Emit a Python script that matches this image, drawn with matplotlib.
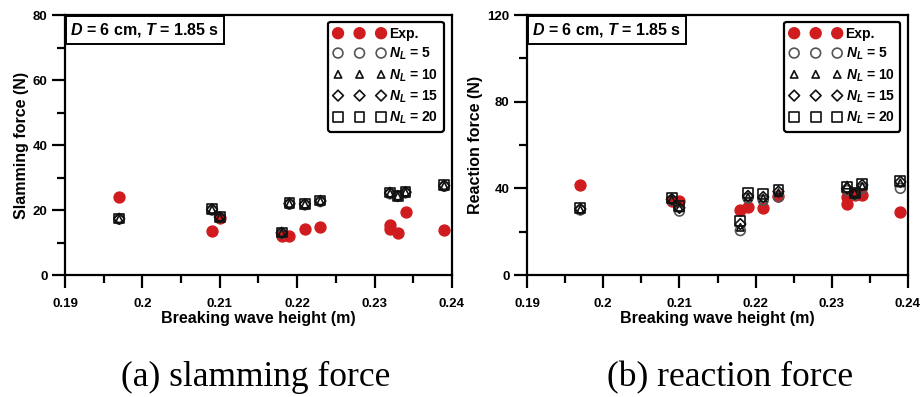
import matplotlib
matplotlib.use('Agg')
import matplotlib.pyplot as plt
from matplotlib.ticker import MultipleLocator, FormatStrFormatter

plt.rcParams['font.family'] = ['Liberation Sans', 'DejaVu Sans']
plt.rcParams['font.weight'] = 'bold'
plt.rcParams['mathtext.fontset'] = 'custom'
plt.rcParams['mathtext.it'] = 'Liberation Sans:bold:italic'
plt.rcParams['mathtext.rm'] = 'Liberation Sans:bold'
plt.rcParams['mathtext.bf'] = 'Liberation Sans:bold'

# breaking wave heights (m)
h_exp = [0.197, 0.209, 0.210, 0.218, 0.219, 0.221, 0.223, 0.232, 0.232, 0.233, 0.234, 0.239]
h_sim = [0.197, 0.209, 0.210, 0.218, 0.219, 0.221, 0.223, 0.232, 0.233, 0.234, 0.239]

# slamming force (N)
slam_exp = [24.0, 13.5, 17.5, 12.0, 12.0, 14.3, 14.8, 15.5, 14.3, 13.0, 19.3, 13.7]
slam_nl5 = [17.2, 20.0, 17.6, 12.8, 21.8, 21.6, 22.6, 25.0, 24.2, 25.3, 27.3]
slam_nl10 = [17.3, 20.2, 17.8, 13.0, 22.0, 21.8, 22.8, 25.2, 24.3, 25.5, 27.5]
slam_nl15 = [17.3, 20.2, 17.8, 13.0, 22.0, 21.8, 22.8, 25.3, 24.3, 25.5, 27.5]
slam_nl20 = [17.4, 20.3, 17.9, 13.1, 22.1, 21.9, 22.9, 25.4, 24.4, 25.6, 27.6]

# reaction force (N)
reac_exp = [41.7, 34.2, 34.0, 29.9, 31.6, 31.1, 36.5, 32.8, 36.0, 37.0, 37.0, 29.3]
reac_nl5 = [30.0, 34.5, 29.5, 20.5, 35.5, 34.5, 36.0, 39.0, 37.0, 40.0, 40.0]
reac_nl10 = [30.3, 34.8, 31.0, 22.0, 36.0, 35.5, 38.0, 41.5, 38.0, 41.0, 42.5]
reac_nl15 = [30.5, 35.0, 31.0, 23.5, 36.5, 36.0, 38.5, 40.0, 37.5, 41.5, 43.0]
reac_nl20 = [30.8, 35.5, 32.0, 25.0, 38.0, 37.5, 39.5, 40.5, 38.0, 42.0, 43.5]

RED = '#d01c1f'


def draw_panel(ax, exp, sims, ylabel, ymax, ymajor, yminor):
    ax.scatter(h_exp, exp, s=62, color=RED, zorder=2, label='Exp.')
    styles = [('o', '#555555', 50, r'$N_L$ = 5'),
              ('^', '#111111', 28, r'$N_L$ = 10'),
              ('D', '#111111', 30, r'$N_L$ = 15'),
              ('s', '#111111', 50, r'$N_L$ = 20')]
    for vals, (mk, ec, size, lab) in zip(sims, styles):
        ax.scatter(h_sim, vals, s=size, marker=mk, facecolors='none',
                   edgecolors=ec, linewidths=1.2, zorder=3, label=lab)
    ax.set_xlim(0.19, 0.24)
    ax.set_ylim(0, ymax)
    ax.xaxis.set_major_locator(MultipleLocator(0.01))
    ax.xaxis.set_minor_locator(MultipleLocator(0.005))
    ax.xaxis.set_major_formatter(FormatStrFormatter('%g'))
    ax.yaxis.set_major_locator(MultipleLocator(ymajor))
    ax.yaxis.set_minor_locator(MultipleLocator(yminor))
    ax.tick_params(which='major', direction='out', length=9.5, width=1.6,
                   labelsize=9.5)
    ax.tick_params(which='minor', direction='out', length=5.5, width=1.6)
    ax.tick_params(axis='x', which='major', pad=7)
    ax.tick_params(axis='y', which='major', pad=3)
    for lbl in ax.get_xticklabels() + ax.get_yticklabels():
        lbl.set_fontweight('bold')
    for sp in ax.spines.values():
        sp.set_linewidth(1.6)
    ax.set_xlabel('Breaking wave height (m)', fontsize=11.5, fontweight='bold', labelpad=1)
    ax.set_ylabel(ylabel, fontsize=11.5, fontweight='bold', labelpad=3)
    ax.text(0.014, 0.978, r'$D$ = 6 cm, $T$ = 1.85 s', transform=ax.transAxes,
            ha='left', va='top', fontsize=11.5, fontweight='bold',
            bbox=dict(boxstyle='square,pad=0.3', fc='white', ec='black', lw=1.4))
    leg = ax.legend(loc='upper right', numpoints=3, scatterpoints=3,
                    scatteryoffsets=[0.5], frameon=True, fancybox=True,
                    handlelength=3.7, handletextpad=0.3, labelspacing=0.35,
                    borderpad=0.4, borderaxespad=0.0,
                    bbox_to_anchor=(0.98, 0.975),
                    prop={'weight': 'bold', 'size': 10})
    leg.get_frame().set_edgecolor('black')
    leg.get_frame().set_linewidth(1.6)
    leg.get_frame().set_alpha(1)


fig = plt.figure(figsize=(9.22, 3.97), dpi=100)
ax1 = fig.add_axes([0.0705, 0.3073, 0.4197, 0.6549])
ax2 = fig.add_axes([0.5716, 0.3073, 0.4132, 0.6549])

draw_panel(ax1, slam_exp, [slam_nl5, slam_nl10, slam_nl15, slam_nl20],
           'Slamming force (N)', 80, 20, 10)
draw_panel(ax2, reac_exp, [reac_nl5, reac_nl10, reac_nl15, reac_nl20],
           'Reaction force (N)', 120, 40, 20)

fig.text(0.277, 0.048, '(a) slamming force', ha='center', va='center',
         fontsize=25.5, family='Liberation Serif', fontweight='normal')
fig.text(0.792, 0.048, '(b) reaction force', ha='center', va='center',
         fontsize=25.5, family='Liberation Serif', fontweight='normal')

fig.savefig('out.png', dpi=100)
